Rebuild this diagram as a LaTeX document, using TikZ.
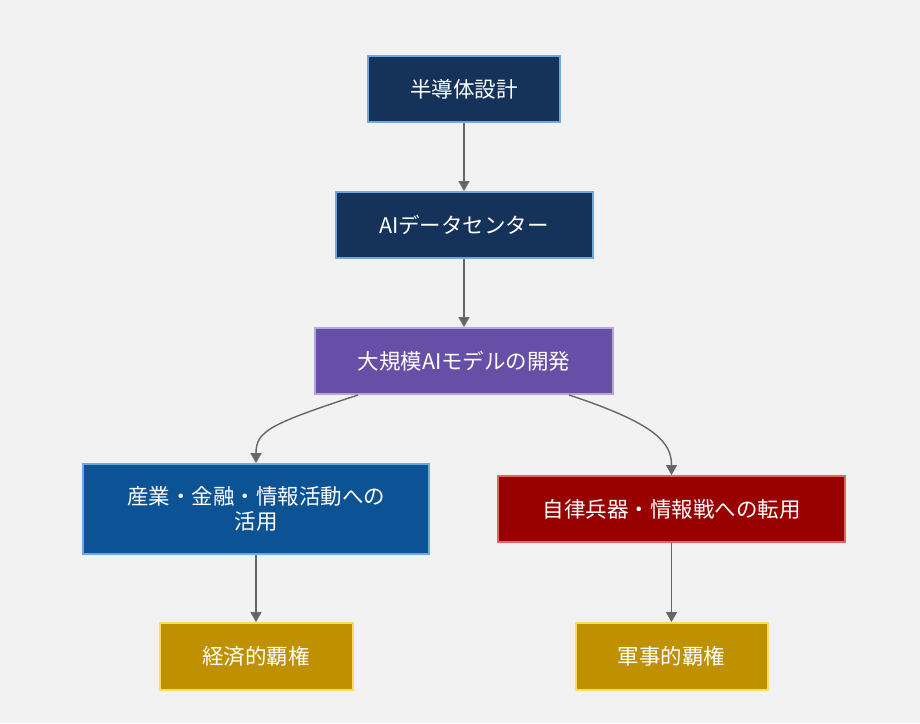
\documentclass[tikz,border=0pt]{standalone}
\usepackage{fontspec}
\setmainfont{Noto Sans CJK JP}
\usetikzlibrary{arrows.meta}
\definecolor{bg}{HTML}{F2F2F2}
\definecolor{navy}{HTML}{15325B}
\definecolor{sky}{HTML}{6FA8DC}
\definecolor{plum}{HTML}{674EA7}
\definecolor{lilac}{HTML}{B4A7D6}
\definecolor{ocean}{HTML}{0B5394}
\definecolor{crimson}{HTML}{990000}
\definecolor{rose}{HTML}{E06666}
\definecolor{gold}{HTML}{BF9000}
\definecolor{sand}{HTML}{FFD966}
\definecolor{wire}{HTML}{666666}

\begin{document}
\begin{tikzpicture}[x=1pt,y=-1pt,
  box/.style={line width=2pt, text=white, inner sep=0pt, align=center,
    font=\fontsize{21.5}{25.5}\selectfont},
  link/.style={draw=wire, line width=1.4pt, -{Triangle[length=10pt,width=11pt]}}]
\fill[bg] (0,0) rectangle (920,723);
\useasboundingbox (0,0) rectangle (920,723);

\node[box, fill=navy, draw=sky, minimum width=192pt, minimum height=66pt] (chip) at (464,89) {半導体設計};
\node[box, fill=navy, draw=sky, minimum width=257pt, minimum height=66pt] (dc) at (464,225) {AIデータセンター};
\node[box, fill=plum, draw=lilac, minimum width=298pt, minimum height=66pt] (model) at (464,361) {大規模AIモデルの開発};
\node[box, fill=ocean, draw=sky, minimum width=346pt, minimum height=90pt] (civil) at (256,509) {産業・金融・情報活動への\\活用};
\node[box, fill=crimson, draw=rose, minimum width=347pt, minimum height=66pt] (mil) at (671.5,509) {自律兵器・情報戦への転用};
\node[box, fill=gold, draw=sand, minimum width=193pt, minimum height=67pt] (econ) at (256,656.5) {経済的覇権};
\node[box, fill=gold, draw=sand, minimum width=192pt, minimum height=67pt] (army) at (671.5,656.5) {軍事的覇権};

\draw[link] (chip) -- (dc);
\draw[link] (dc) -- (model);
\draw[link] ([xshift=-106pt]model.south) .. controls +(-88,29) and +(0,-32) .. (civil.north);
\draw[link] ([xshift=105pt]model.south) .. controls +(88,29) and +(0,-32) .. (mil.north);
\draw[link] (civil) -- (econ);
\draw[link] (mil) -- (army);
%\draw[wire] (0,0) grid[step=100] (920,723);
\end{tikzpicture}
\end{document}
